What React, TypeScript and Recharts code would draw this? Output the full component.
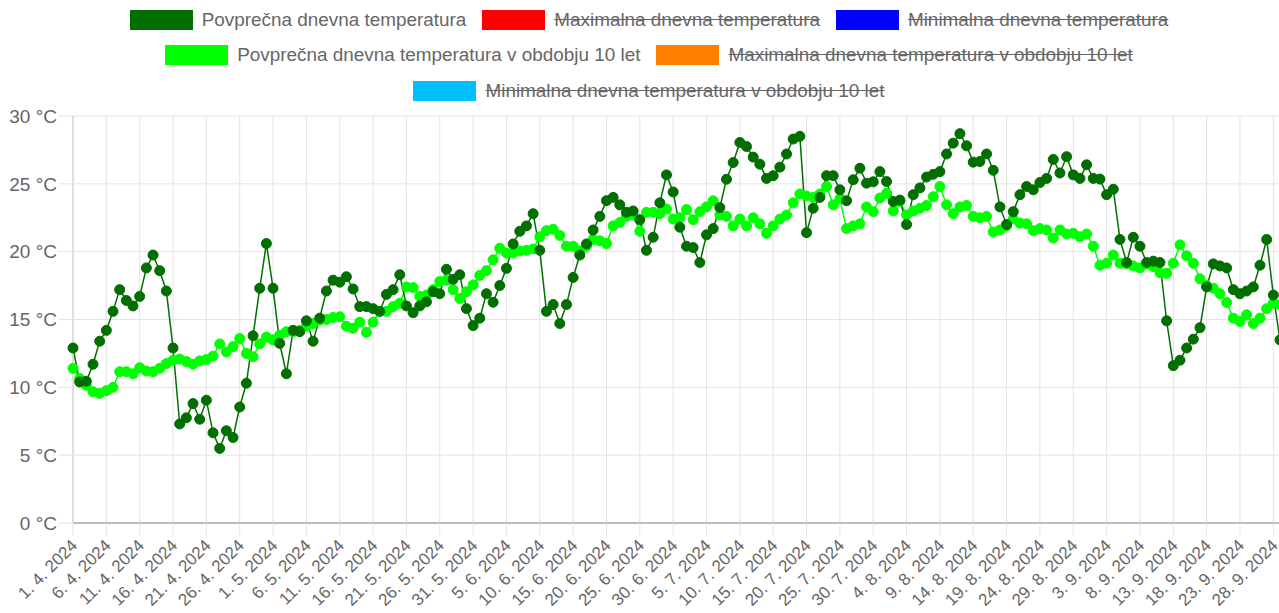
import React from 'react';
import { LineChart, Line, XAxis, YAxis, CartesianGrid } from 'recharts';

const FONT = "'Liberation Sans', Arial, Helvetica, sans-serif";

// Months shown (month number, days visible)
const monthSpans: [number, number][] = [[4, 30], [5, 31], [6, 30], [7, 31], [8, 31], [9, 29]];
const dateLabels: string[] = [];
for (const [m, n] of monthSpans) {
  for (let d = 1; d <= n; d++) dateLabels.push(`${d}. ${m}. 2024`);
}

const yTicks = [0, 5, 10, 15, 20, 25, 30];

const avgTemp = [
  12.9, 10.4, 10.45, 11.7, 13.4, 14.2, 15.6, 17.2, 16.4, 16.0,
  16.7, 18.8, 19.75, 18.6, 17.1, 12.9, 7.3, 7.75, 8.8, 7.65,
  9.05, 6.65, 5.5, 6.8, 6.3, 8.55, 10.3, 13.8, 17.3, 20.6,
  17.3, 13.24, 11.0, 14.2, 14.1, 14.9, 13.4, 15.1, 17.1, 17.9,
  17.75, 18.15, 17.25, 15.95, 15.95, 15.8, 15.6, 16.85, 17.2, 18.3,
  16.0, 15.5, 16.0, 16.3, 17.05, 16.9, 18.7, 17.96, 18.3, 15.8,
  14.55, 15.1, 16.9, 16.27, 17.5, 18.77, 20.57, 21.5, 21.9, 22.8,
  20.1, 15.6, 16.1, 14.7, 16.1, 18.1, 19.75, 20.57, 21.6, 22.6,
  23.76, 24.0, 23.45, 22.9, 23.0, 22.35, 20.1, 21.06, 23.6, 25.66,
  24.4, 21.8, 20.4, 20.3, 19.2, 21.24, 21.7, 23.25, 25.34, 26.57,
  28.05, 27.75, 26.97, 26.45, 25.4, 25.6, 26.23, 27.2, 28.3, 28.5,
  21.4, 23.2, 24.0, 25.6, 25.6, 24.56, 23.75, 25.3, 26.15, 25.05,
  25.15, 25.9, 25.17, 23.7, 23.8, 22.0, 24.2, 24.7, 25.5, 25.7,
  25.9, 27.2, 28.0, 28.7, 27.8, 26.6, 26.65, 27.2, 26.0, 23.3,
  22.0, 22.95, 24.2, 24.8, 24.56, 25.1, 25.4, 26.8, 25.8, 27.0,
  25.66, 25.4, 26.4, 25.4, 25.35, 24.2, 24.6, 20.9, 19.2, 21.06,
  20.4, 19.2, 19.3, 19.2, 14.9, 11.6, 12.0, 12.9, 13.55, 14.4,
  17.4, 19.1, 18.95, 18.8, 17.2, 16.9, 17.1, 17.4, 19.0, 20.9,
  16.8, 13.5,
];

const avgTemp10y = [
  11.4, 10.65, 10.15, 9.67, 9.55, 9.75, 10.0, 11.15, 11.15, 11.0,
  11.45, 11.2, 11.15, 11.4, 11.75, 12.0, 12.08, 11.9, 11.7, 11.95,
  12.05, 12.3, 13.2, 12.6, 13.0, 13.6, 12.5, 12.25, 13.2, 13.7,
  13.5, 13.85, 14.1, 14.1, 14.2, 14.5, 14.7, 14.95, 15.0, 15.15,
  15.2, 14.5, 14.35, 14.8, 14.05, 14.8, 15.6, 15.6, 15.95, 16.2,
  17.4, 17.35, 16.7, 16.8, 17.2, 17.8, 17.9, 17.2, 16.55, 17.05,
  17.55, 18.25, 18.6, 19.4, 20.25, 19.9, 19.9, 20.05, 20.1, 20.2,
  21.1, 21.55, 21.65, 21.2, 20.4, 20.4, 20.05, 20.4, 20.9, 20.8,
  20.6, 21.9, 22.15, 22.6, 22.7, 21.5, 22.9, 22.9, 22.8, 23.15,
  22.4, 22.5, 23.1, 22.35, 22.95, 23.3, 23.75, 22.7, 22.6, 21.9,
  22.4, 21.9, 22.5, 22.05, 21.35, 21.9, 22.4, 22.7, 23.6, 24.25,
  24.1, 24.0, 24.25, 24.8, 23.45, 23.9, 21.7, 21.9, 22.05, 23.3,
  22.95, 23.95, 24.3, 23.0, 23.7, 22.7, 23.0, 23.2, 23.4, 24.05,
  24.8, 23.45, 22.8, 23.3, 23.4, 22.6, 22.5, 22.6, 21.45, 21.6,
  21.9, 22.4, 22.1, 22.05, 21.55, 21.7, 21.6, 21.0, 21.6, 21.3,
  21.35, 21.1, 21.3, 20.4, 19.0, 19.15, 19.75, 19.15, 19.1, 18.95,
  18.8, 19.1, 18.9, 18.45, 18.4, 19.15, 20.5, 19.7, 19.15, 18.0,
  17.5, 17.3, 16.9, 16.25, 15.1, 14.85, 15.35, 14.7, 15.1, 15.8,
  16.2, 16.1,
];

const legendLabels = [
  'Povprečna dnevna temperatura',
  'Maximalna dnevna temperatura',
  'Minimalna dnevna temperatura',
  'Povprečna dnevna temperatura v obdobju 10 let',
  'Maximalna dnevna temperatura v obdobju 10 let',
  'Minimalna dnevna temperatura v obdobju 10 let',
];
const legendColors = ['#006f00', '#ff0000', '#0000ff', '#00ff00', '#ff8000', '#00bfff'];
const legendHidden = [false, true, true, false, true, true];
const legendRows = [[0, 1, 2], [3, 4], [5]];

const DARK = legendColors[0];
const LIME = legendColors[3];

const data = dateLabels.map((label, i) => ({
  label,
  avg: avgTemp[i],
  avg10: avgTemp10y[i],
}));

const XTick = (props: any) => {
  const { x, y, payload } = props;
  const ax = x - 3;
  return (
    <text
      x={ax}
      y={y}
      dy="0.71em"
      textAnchor="end"
      transform={`rotate(-45, ${ax}, ${y})`}
      fill="#666"
      fontSize={17}
      fontFamily={FONT}
    >
      {payload.value}
    </text>
  );
};

const LegendBlock = () => (
  <div style={{ position: 'absolute', left: 0, top: 2, width: 1298, fontFamily: FONT }}>
    {legendRows.map((row, ri) => (
      <div
        key={ri}
        style={{ height: 35.5, display: 'flex', justifyContent: 'center', alignItems: 'center', gap: 16 }}
      >
        {row.map((idx) => (
          <div key={idx} style={{ display: 'flex', alignItems: 'center' }}>
            <div style={{ width: 63, height: 20, background: legendColors[idx] }} />
            <span
              style={{
                marginLeft: 9,
                fontSize: 18.9,
                color: '#666',
                textDecoration: legendHidden[idx] ? 'line-through' : 'none',
                whiteSpace: 'nowrap',
              }}
            >
              {legendLabels[idx]}
            </span>
          </div>
        ))}
      </div>
    ))}
  </div>
);

export default function App() {
  return (
    <div style={{ position: 'absolute', left: 0, top: 0, width: 1279, height: 613, overflow: 'hidden', background: '#fff' }}>
      <LineChart
        width={1290}
        height={613}
        data={data}
        margin={{ top: 116, right: 10, bottom: 0, left: 0 }}
      >
        <CartesianGrid stroke="#e4e4e4" />
        <XAxis
          dataKey="label"
          interval={4}
          height={90}
          tick={<XTick />}
          tickSize={12}
          tickMargin={3}
          tickLine={{ stroke: '#e4e4e4' }}
          axisLine={{ stroke: '#aaa', strokeWidth: 1.5 }}
        />
        <YAxis
          width={73}
          domain={[0, 30]}
          ticks={yTicks}
          interval={0}
          tickFormatter={(v: number) => `${v} °C`}
          tick={{ fill: '#666', fontSize: 19, fontFamily: FONT }}
          tickSize={14}
          tickMargin={2}
          tickLine={{ stroke: '#e4e4e4' }}
          axisLine={{ stroke: '#ccc' }}
        />
        <Line
          type="linear"
          dataKey="avg10"
          stroke={LIME}
          strokeWidth={1.5}
          dot={{ r: 5, fill: LIME, stroke: LIME, strokeWidth: 1 }}
          activeDot={false}
          isAnimationActive={false}
        />
        <Line
          type="linear"
          dataKey="avg"
          stroke={DARK}
          strokeWidth={1.5}
          dot={{ r: 5, fill: DARK, stroke: DARK, strokeWidth: 1 }}
          activeDot={false}
          isAnimationActive={false}
        />
      </LineChart>
      <LegendBlock />
    </div>
  );
}
